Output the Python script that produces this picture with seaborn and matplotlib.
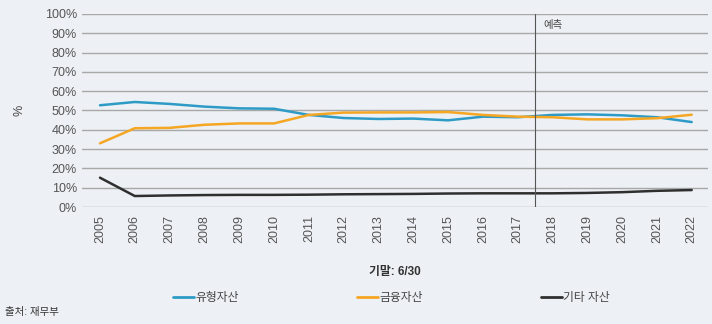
import numpy as np
import pandas as pd
import matplotlib.pyplot as plt
import matplotlib.ticker as ticker
import seaborn as sns

years = list(range(2005, 2023))
tangible = [52.7, 54.4, 53.4, 52.0, 51.1, 50.9, 47.7, 46.1, 45.6, 45.8, 44.9, 46.8,
            46.5, 47.7, 48.0, 47.5, 46.5, 44.0]
financial = [33.0, 40.8, 41.0, 42.6, 43.3, 43.3, 47.7, 48.9, 49.0, 49.0, 49.2, 47.7,
             46.8, 46.5, 45.4, 45.4, 46.0, 47.8]
other = [15.2, 5.7, 6.0, 6.2, 6.3, 6.3, 6.4, 6.6, 6.7, 6.8, 7.0, 7.1,
         7.1, 7.1, 7.3, 7.7, 8.4, 8.8]
series_names = ["유형자산", "금융자산", "기타 자산"]
colors = ["#2e9bc6", "#f5a623", "#2f2f2f"]
forecast_start = 2017.5

sns.set_theme(style="white")
plt.rcParams["font.family"] = ["Liberation Sans", "Noto Sans CJK KR"]

df = pd.DataFrame({"year": years * 3,
                   "value": tangible + financial + other,
                   "series": np.repeat(series_names, len(years))})

bg = "#edf1f5"
fig = plt.figure(figsize=(7.12, 3.24), dpi=100, facecolor=bg)
ax = fig.add_axes([0.115, 0.361, 0.879, 0.596])
ax.set_facecolor(bg)

ax.yaxis.grid(True, color="#a8a8a8", linewidth=1.0)
ax.set_axisbelow(True)
sns.lineplot(data=df, x="year", y="value", hue="series", palette=colors,
             hue_order=series_names, linewidth=1.8, ax=ax, legend=False)
ax.axvline(forecast_start, color="#555555", linewidth=0.8)
ax.text(forecast_start + 0.25, 97, "예측", fontsize=7.5, color="#444444", va="top")

ax.set_xlim(2004.48, 2022.46)
ax.set_ylim(0, 100)
ax.set_yticks(range(0, 101, 10))
ax.yaxis.set_major_formatter(ticker.FuncFormatter(lambda v, p: f"{int(v)}%"))
ax.set_xticks(years)
ax.set_xticklabels([str(y) for y in years], rotation=90)
ax.tick_params(axis="both", labelsize=9, colors="#555555", length=0)
ax.tick_params(axis="x", pad=6)
for s in ax.spines.values():
    s.set_visible(False)
ax.set_xlabel("기말: 6/30", fontsize=8.5, fontweight="bold", color="#333333", labelpad=16)
ax.set_ylabel("%", fontsize=9, color="#444444", labelpad=14)

handles = [plt.Line2D([], [], color=c, linewidth=2) for c in colors]
fig.legend(handles, series_names, loc="center", bbox_to_anchor=(0.55, 0.08), ncol=3,
           frameon=False, fontsize=8.5, handlelength=1.8, handletextpad=0.1,
           columnspacing=10, labelcolor="#444444")
fig.text(0.007, 0.028, "출처: 재무부", fontsize=7.5, color="#333333")

fig.savefig("out.png", dpi=100, facecolor=bg)
